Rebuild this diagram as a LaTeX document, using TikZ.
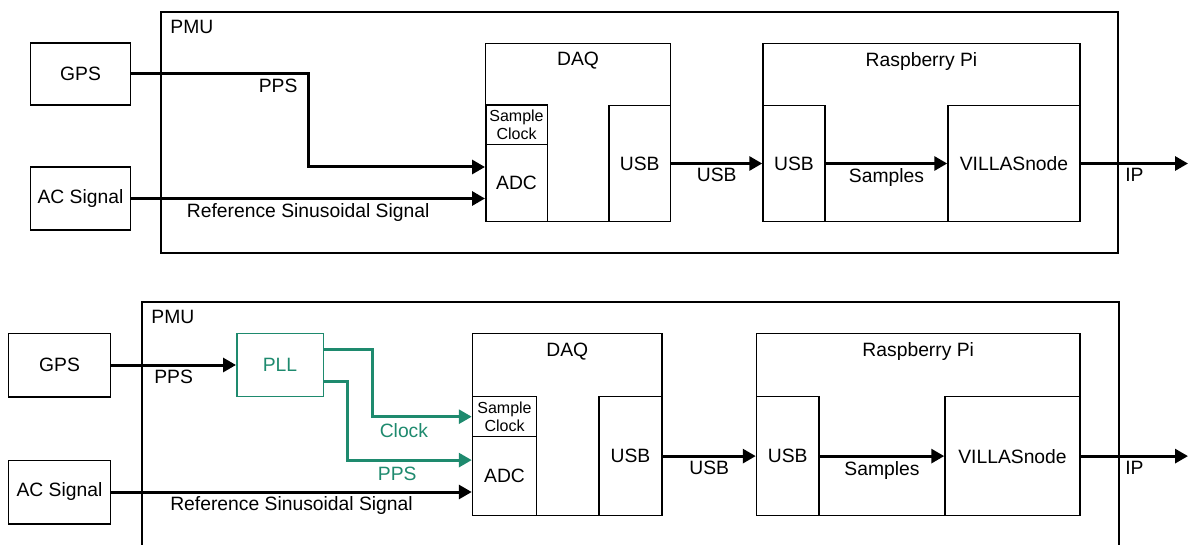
\documentclass[tikz,border=0pt]{standalone}
\usepackage{fontspec}
\setmainfont{Liberation Sans}
\usetikzlibrary{positioning, arrows.meta}
\definecolor{pllgreen}{RGB}{30,138,110}

\begin{document}
\begin{tikzpicture}[x=1pt, y=-1pt,
  every node/.style={font=\fontsize{19.3}{22}\selectfont},
  box/.style={draw, line width=1.5pt, inner sep=0pt, align=center},
  pllbox/.style={box, draw=pllgreen, text=pllgreen},
  small/.style={font=\fontsize{16}{17.6}\selectfont},
  title/.style={inner sep=0pt},
  lbl/.style={inner sep=3.5pt},
  sig/.style={line width=3pt, -{Triangle[length=13pt,width=14pt]}},
  pllsig/.style={sig, draw=pllgreen}]
  \clip (0,0) rectangle (1188,545);

  % upper variant
  \node[box, minimum width=957pt, minimum height=241pt] (pmuA) at (639.5,132.5) {};
  \node[title, below right=9pt and 10pt of pmuA.north west] (pmuAt) {PMU};
  \node[box, minimum width=100pt, minimum height=62pt] (gpsA) at (80.5,74) {GPS};
  \node[box, minimum width=100pt, minimum height=63pt] (acA) at (80.5,198.5) {AC Signal};

  \node[box, minimum width=185pt, minimum height=178pt] (daqA) at (578,132.5) {};
  \node[title, below=9pt of daqA.north] (daqAt) {DAQ};
  \node[box, small, minimum width=61.5pt, minimum height=39.5pt] (sclkA) at (516.5,124.75) {Sample\\Clock};
  \node[box, minimum width=61.5pt, minimum height=77pt] (adcA) at (516.5,183) {ADC};
  \node[box, minimum width=61.5pt, minimum height=116pt] (usbdA) at (639.75,163.5) {USB};

  \node[box, minimum width=317pt, minimum height=178pt] (rpiA) at (921.5,132.5) {};
  \node[title, below=10pt of rpiA.north] (rpiAt) {Raspberry Pi};
  \node[box, minimum width=62pt, minimum height=116pt] (usbrA) at (794,163.5) {USB};
  \node[box, minimum width=132pt, minimum height=116pt] (villaA) at (1014,163.5) {VILLASnode};
  \coordinate (ipA) at (1188,163.5);

  \draw[sig] (gpsA.east) -- node[lbl, below, pos=0.83] (ppsAl) {PPS} ++(177,0) |- ([yshift=16pt]adcA.west);
  \draw[sig] (acA.east) -- node[lbl, below] (refAl) {Reference Sinusoidal Signal} (acA.east -| adcA.west);
  \draw[sig] (usbdA.east) -- node[lbl, below] (usbAl) {USB} (usbrA.west);
  \draw[sig] (usbrA.east) -- node[lbl, below] (smpAl) {Samples} (villaA.west);
  \draw[sig] (villaA.east) -- node[lbl, below] (ipAl) {IP} (ipA);

  % lower variant with PLL
  \node[box, minimum width=977pt, minimum height=298pt] (pmuB) at (630.5,451) {};
  \node[title, below right=9pt and 10pt of pmuB.north west] (pmuBt) {PMU};
  \node[box, minimum width=102pt, minimum height=63.5pt] (gpsB) at (59.5,365) {GPS};
  \node[box, minimum width=102pt, minimum height=63.5pt] (acB) at (59.5,492) {AC Signal};
  \node[pllbox, minimum width=86.5pt, minimum height=63pt] (pllB) at (280,365) {PLL};

  \node[box, minimum width=189.5pt, minimum height=182pt] (daqB) at (567.25,424.5) {};
  \node[title, below=10pt of daqB.north] (daqBt) {DAQ};
  \node[box, small, minimum width=64pt, minimum height=40pt] (sclkB) at (504.5,416.7) {Sample\\Clock};
  \node[box, minimum width=64pt, minimum height=78.8pt] (adcB) at (504.5,476.1) {ADC};
  \node[box, minimum width=63pt, minimum height=118.8pt] (usbdB) at (630.5,456.1) {USB};

  \node[box, minimum width=323.5pt, minimum height=182pt] (rpiB) at (918.25,424.5) {};
  \node[title, below=10pt of rpiB.north] (rpiBt) {Raspberry Pi};
  \node[box, minimum width=62.5pt, minimum height=118.8pt] (usbrB) at (787.75,456.1) {USB};
  \node[box, minimum width=135pt, minimum height=118.8pt] (villaB) at (1012.5,456.1) {VILLASnode};
  \coordinate (ipB) at (1188,456.1);

  \draw[sig] (gpsB.east) -- node[lbl, below] (ppsBl) {PPS} (pllB.west);
  \draw[pllsig] ([yshift=16pt]pllB.east) -- ++(48,0) |- node[lbl, below, pos=0.66, yshift=-2pt, text=pllgreen] (clkBl) {Clock} (sclkB.west);
  \draw[pllsig] ([yshift=-16pt]pllB.east) -- ++(23.5,0) |- node[lbl, below, pos=0.70, yshift=-2pt, text=pllgreen] (ppsBg) {PPS} ([yshift=16pt]adcB.west);
  \draw[sig] (acB.east) -- node[lbl, below] (refBl) {Reference Sinusoidal Signal} (acB.east -| adcB.west);
  \draw[sig] (usbdB.east) -- node[lbl, below] (usbBl) {USB} (usbrB.west);
  \draw[sig] (usbrB.east) -- node[lbl, below] (smpBl) {Samples} (villaB.west);
  \draw[sig] (villaB.east) -- node[lbl, below] (ipBl) {IP} (ipB);
\end{tikzpicture}
\end{document}
